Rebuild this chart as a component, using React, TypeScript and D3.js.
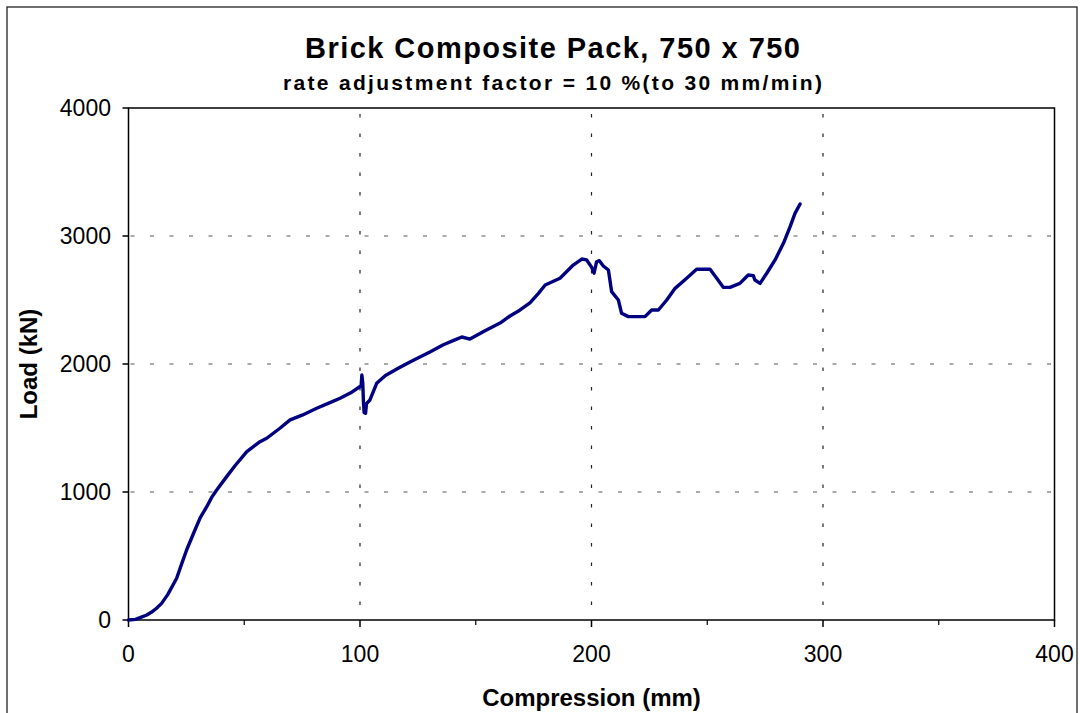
import React from "react";
import * as d3 from "d3";

const compression: number[] = [
  0, 3, 5, 7.9, 10, 12, 14.3, 17, 20.8, 23, 25.1, 28.7, 31, 33.8, 36, 38.1, 42.4, 46, 51.1, 56.8,
  59.7, 65.4, 69.8, 75, 81.3, 86, 91.4, 96, 100.5, 100.8, 101.2, 101.5, 101.8, 102.4, 102.8, 104.3,
  107.2, 111, 116.5, 122, 130.2, 136, 141, 144, 147.5, 154, 160.5, 164.8, 169, 173.4, 177, 180,
  186.4, 192.1, 195.8, 197.9, 200.1, 201.1, 202.2, 203.4, 205.1, 207.3, 208.7, 211.6, 213, 215.9,
  223.1, 226, 228.9, 232.5, 236.1, 241.1, 245.4, 251.2, 254.1, 256.9, 259.8, 264.1, 266.3, 267.7,
  269.9, 270.6, 272.8, 275.7, 279.3, 282.9, 285.8, 287.9, 290.1,
];
const loadKN: number[] = [
  0, 5, 18, 39, 62, 90, 130, 200, 326, 440, 547, 703, 800, 885, 960, 1016, 1120, 1205, 1315, 1393,
  1420, 1498, 1563, 1600, 1654, 1690, 1732, 1775, 1830, 1914, 1850, 1700, 1620, 1615, 1690, 1719,
  1849, 1910, 1966, 2020, 2094, 2150, 2188, 2211, 2195, 2260, 2320, 2375, 2420, 2477, 2550, 2617,
  2670, 2773, 2820, 2813, 2755, 2709, 2799, 2807, 2766, 2734, 2565, 2500, 2396, 2370,
  2370, 2422, 2422, 2500, 2591, 2670, 2740, 2740, 2670, 2599, 2599, 2630, 2670, 2695,
  2690, 2656, 2630, 2709, 2813, 2943, 3073, 3177, 3250,
];
const xTicks: number[] = [0, 100, 200, 300, 400];
const xMinorTicks: number[] = [50, 150, 250, 350];
const yTicks: number[] = [0, 1000, 2000, 3000, 4000];
const titleText = "Brick Composite Pack, 750 x 750";
const subtitleText = "rate adjustment factor = 10 %(to 30 mm/min)";
const xLabel = "Compression (mm)";
const yLabel = "Load (kN)";

export default function App() {
  const W = 1080, H = 713;
  const left = 128.5, right = 1054.5, top = 108, bottom = 620;
  const x = d3.scaleLinear().domain([0, 400]).range([left, right]);
  const y = d3.scaleLinear().domain([0, 4000]).range([bottom, top]);
  const pts: [number, number][] = compression.map((c, i) => [c, loadKN[i]]);
  const line = d3.line<[number, number]>().x(d => x(d[0])).y(d => y(d[1]));
  const font = "Arial, 'Liberation Sans', sans-serif";
  return (
    <svg width={W} height={H} style={{ position: "absolute", left: 0, top: 0, background: "#fff" }} fontFamily={font}>
      <rect x={7} y={7} width={1070} height={720} fill="#fff" stroke="#222" strokeWidth={1.3} />
      {yTicks.filter(t => t > 0 && t < 4000).map(t => (
        <line key={"gy" + t} x1={left} x2={right} y1={y(t)} y2={y(t)} stroke="#555" strokeWidth={1.2} strokeDasharray="4,15.5" strokeDashoffset={-2} />
      ))}
      {xTicks.filter(t => t > 0 && t < 400).map(t => (
        <line key={"gx" + t} x1={x(t)} x2={x(t)} y1={top} y2={bottom} stroke="#222" strokeWidth={1.2} strokeDasharray="3.5,16" strokeDashoffset={-6} />
      ))}
      <rect x={left} y={top} width={right - left} height={bottom - top} fill="none" stroke="#000" strokeWidth={1.5} />
      {yTicks.map(t => (
        <g key={"yt" + t}>
          <line x1={left - 6} x2={left} y1={y(t)} y2={y(t)} stroke="#000" strokeWidth={1.5} />
          <text x={111} y={y(t)} dy="0.36em" textAnchor="end" fontSize={23}>{t}</text>
        </g>
      ))}
      {xTicks.map(t => (
        <g key={"xt" + t}>
          <line x1={x(t)} x2={x(t)} y1={bottom} y2={bottom + 7} stroke="#000" strokeWidth={1.5} />
          <text x={x(t)} y={662} textAnchor="middle" fontSize={23}>{t}</text>
        </g>
      ))}
      {xMinorTicks.map(t => (
        <line key={"xm" + t} x1={x(t)} x2={x(t)} y1={bottom} y2={bottom + 5} stroke="#000" strokeWidth={1.2} />
      ))}
      <path d={line(pts) || ""} fill="none" stroke="#000080" strokeWidth={3.4} strokeLinejoin="round" strokeLinecap="round" />
      <text x={305} y={58} fontSize={29} fontWeight="bold" textLength={495} lengthAdjust="spacing">{titleText}</text>
      <text x={283} y={90} fontSize={21} fontWeight="bold" textLength={539} lengthAdjust="spacing">{subtitleText}</text>
      <text x={(left + right) / 2} y={706} textAnchor="middle" fontSize={24} fontWeight="bold">{xLabel}</text>
      <text transform={`translate(37, ${(top + bottom) / 2}) rotate(-90)`} textAnchor="middle" fontSize={24} fontWeight="bold">{yLabel}</text>
    </svg>
  );
}
